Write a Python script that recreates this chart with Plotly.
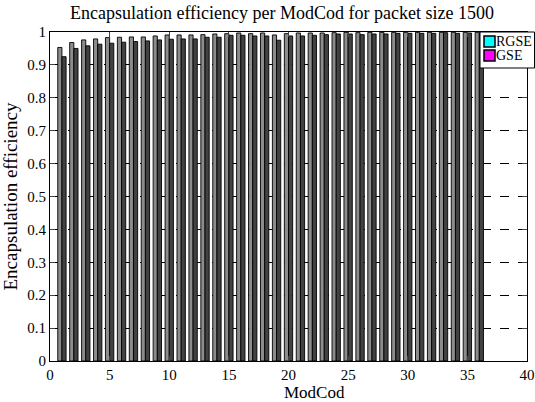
import plotly.graph_objects as go

modcod = list(range(1, 37))
rgse = [0.953, 0.968, 0.976, 0.979, 0.983, 0.984, 0.985, 0.985, 0.988, 0.991,
        0.991, 0.991, 0.992, 0.994, 0.995, 0.997, 0.995, 0.997, 0.991, 0.995,
        0.997, 0.997, 0.997, 0.998, 0.999, 0.998, 0.999, 0.999, 0.999, 0.999,
        0.999, 0.999, 0.999, 0.999, 0.999, 0.999]
gse = [0.925, 0.950, 0.958, 0.963, 0.966, 0.969, 0.971, 0.973, 0.976, 0.978,
       0.979, 0.979, 0.984, 0.984, 0.990, 0.990, 0.988, 0.988, 0.975, 0.988,
       0.988, 0.990, 0.992, 0.994, 0.994, 0.992, 0.994, 0.994, 0.996, 0.996,
       0.996, 0.996, 0.998, 0.996, 0.997, 0.997]
series_names = ["RGSE", "GSE"]
legend_colors = ["#00ffff", "#ff00ff"]
bar_colors = ["#8c8c8c", "#424242"]
yticks = [i / 10 for i in range(11)]
ytick_labels = ["0", "0.1", "0.2", "0.3", "0.4", "0.5", "0.6", "0.7", "0.8", "0.9", "1"]
xticks = list(range(0, 41, 5))

FONT = "Liberation Serif"

fig = go.Figure()
for name, vals, bc in zip(series_names, [rgse, gse], bar_colors):
    fig.add_trace(go.Bar(x=modcod, y=vals, name=name,
                         marker=dict(color=bc, line=dict(color="black", width=0.9)),
                         showlegend=False))

# legend box (drawn in paper coordinates, right of the plot edge like the original)
PW, PH = 477.0, 329.0
def px(xp):
    return (xp - 50) / PW
def py(yp):
    return (361 - yp) / PH

shapes = [dict(type="rect", xref="paper", yref="paper",
               x0=px(480), x1=px(534.5), y0=py(68), y1=py(32),
               fillcolor="white", line=dict(color="black", width=1), layer="above")]
annotations = []
for i, (name, lc) in enumerate(zip(series_names, legend_colors)):
    ytop = 36 + i * 14
    shapes.append(dict(type="rect", xref="paper", yref="paper",
                       x0=px(484), x1=px(495), y0=py(ytop + 11), y1=py(ytop),
                       fillcolor=lc, line=dict(color="black", width=1.5), layer="above"))
    annotations.append(dict(xref="paper", yref="paper", x=px(494), y=py(ytop + 5.5),
                            xanchor="left", yanchor="middle", text=name, showarrow=False,
                            font=dict(family=FONT, size=14, color="black")))

annotations.append(dict(xref="paper", yref="paper", x=px(314), y=py(392),
                        xanchor="center", yanchor="middle", text="ModCod", showarrow=False,
                        font=dict(family=FONT, size=17, color="black")))

fig.update_layout(
    width=535, height=402,
    margin=dict(l=50, r=8, t=32, b=41, autoexpand=False),
    paper_bgcolor="white", plot_bgcolor="white",
    barmode="group", bargap=0.3, bargroupgap=0,
    font=dict(family=FONT, size=15, color="black"),
    title=dict(text="Encapsulation efficiency per ModCod for packet size 1500",
               xref="paper", x=px(282), xanchor="center", y=0.985, yanchor="top",
               font=dict(family=FONT, size=18, color="black")),
    showlegend=False,
    shapes=shapes,
    annotations=annotations,
)
fig.update_xaxes(range=[0, 40], tickvals=xticks, ticks="inside", ticklen=5,
                 showline=True, linecolor="black", linewidth=1, mirror="ticks",
                 showgrid=False, zeroline=False,
                 tickfont=dict(size=15))
fig.update_yaxes(range=[0, 1], tickvals=yticks, ticktext=ytick_labels, ticks="inside", ticklen=5,
                 showline=True, linecolor="black", linewidth=1, mirror="ticks",
                 showgrid=True, gridcolor="black", griddash="dash", gridwidth=1,
                 zeroline=False,
                 title=dict(text="Encapsulation efficiency", standoff=4, font=dict(size=19)),
                 tickfont=dict(size=15))

fig.write_html("out.html")
